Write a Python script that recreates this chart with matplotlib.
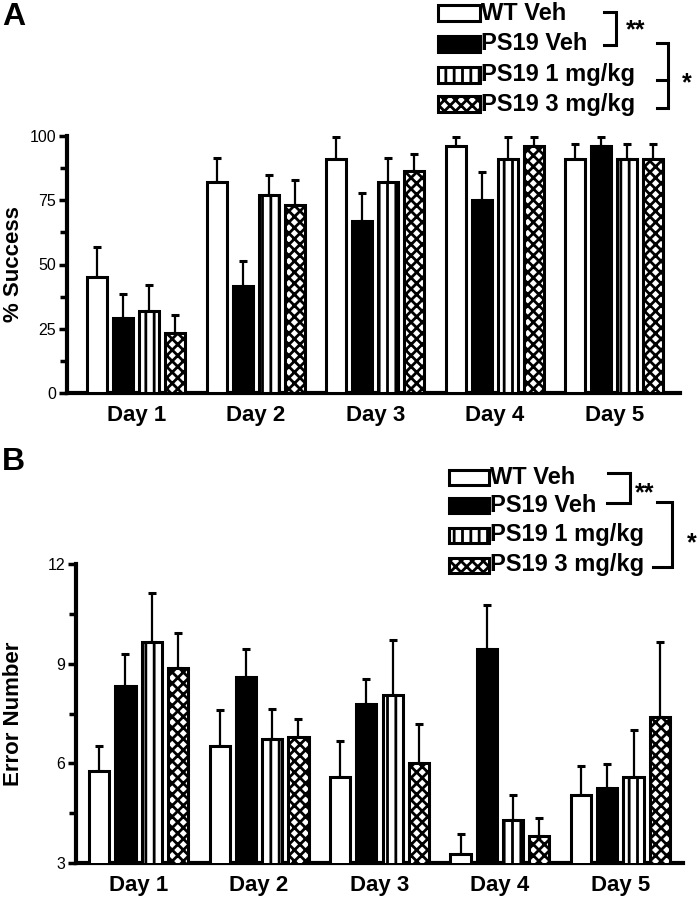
import numpy as np
import matplotlib
matplotlib.use('Agg')
import matplotlib.pyplot as plt
from matplotlib.patches import Rectangle
from matplotlib.lines import Line2D

plt.rcParams['font.family'] = ['Liberation Sans', 'DejaVu Sans']
plt.rcParams['hatch.linewidth'] = 2.0

# dati
days = ['Day 1', 'Day 2', 'Day 3', 'Day 4', 'Day 5']
groups = ['WT Veh', 'PS19 Veh', 'PS19 1 mg/kg', 'PS19 3 mg/kg']

success_wt = [45, 82, 91, 96, 91]
success_veh = [29, 41.5, 67, 75, 96]
success_1mg = [32, 77, 82, 91, 91]
success_3mg = [23.5, 73, 86.5, 96, 91]
success_wt_sem = [12, 9.5, 8.5, 3.5, 5.8]
success_veh_sem = [9.4, 10, 11, 11, 3.5]
success_1mg_sem = [10, 7.8, 9.5, 8.8, 5.8]
success_3mg_sem = [6.8, 10, 6.5, 3.5, 5.8]

errors_wt = [5.77, 6.52, 5.58, 3.26, 5.05]
errors_veh = [8.32, 8.6, 7.8, 9.45, 5.25]
errors_1mg = [9.65, 6.73, 8.05, 4.28, 5.6]
errors_3mg = [8.87, 6.8, 6.0, 3.81, 7.4]
errors_wt_sem = [0.76, 1.08, 1.08, 0.6, 0.87]
errors_veh_sem = [0.98, 0.85, 0.74, 1.32, 0.74]
errors_1mg_sem = [1.47, 0.92, 1.65, 0.77, 1.39]
errors_3mg_sem = [1.06, 0.52, 1.19, 0.53, 2.24]

faces = ['white', 'black', 'white', 'white']
hatches = [None, None, '||', 'xxx']

W, H = 700, 900
def fx(x):
    return x / W
def fy(y):
    return 1 - y / H

fig = plt.figure(figsize=(7, 9), dpi=100)

def pannello(ax, means, sems, ylim, yticks, minor, ylabel, xlim, labx):
    x = np.arange(len(days))
    step = 0.218
    for i in range(4):
        pos = x + (i - 1.5) * step
        ax.bar(pos, means[i], width=0.168, color=faces[i], edgecolor='black',
               linewidth=2.2, hatch=hatches[i], zorder=3,
               yerr=[np.zeros(len(days)), sems[i]],
               error_kw=dict(ecolor='black', elinewidth=1.6, capsize=3,
                             capthick=2.2, zorder=2))
    ax.set_ylim(*ylim)
    ax.set_xlim(*xlim)
    ax.set_yticks(yticks)
    ax.set_yticks(minor, minor=True)
    ax.set_xticks(x)
    ax.set_xticklabels(days, fontsize=16, fontweight='bold')
    ax.tick_params(axis='x', length=0, pad=9)
    ax.tick_params(axis='y', which='major', length=6, width=2.5, labelsize=11.5, pad=2)
    ax.tick_params(axis='y', which='minor', length=5, width=2.5)
    for s in ['top', 'right']:
        ax.spines[s].set_visible(False)
    for s in ['left', 'bottom']:
        ax.spines[s].set_linewidth(3)
    ax.set_ylabel(ylabel, fontsize=16, fontweight='bold')
    ax.yaxis.set_label_coords(labx, 0.5)

axA = fig.add_axes([67 / W, 1 - 393 / H, 613 / W, 257 / H])
pannello(axA,
         [success_wt, success_veh, success_1mg, success_3mg],
         [success_wt_sem, success_veh_sem, success_1mg_sem, success_3mg_sem],
         (0, 100), [0, 25, 50, 75, 100], [12.5, 37.5, 62.5, 87.5],
         '% Success', (-0.58, 4.55), (24 - 67) / 613)

axB = fig.add_axes([76 / W, 1 - 863 / H, 607 / W, 299 / H])
pannello(axB,
         [errors_wt, errors_veh, errors_1mg, errors_3mg],
         [errors_wt_sem, errors_veh_sem, errors_1mg_sem, errors_3mg_sem],
         (3, 12), [3, 6, 9, 12], [4.5, 7.5, 10.5],
         'Error Number', (-0.52, 4.52), (24 - 76) / 607)

fig.text(fx(2), fy(17), 'A', fontsize=23, fontweight='bold', va='center', ha='left')
fig.text(fx(2), fy(462), 'B', fontsize=23, fontweight='bold', va='center', ha='left')

def legenda(x0, x1, ys):
    for i, lab in enumerate(groups):
        y = ys[i]
        r = Rectangle((fx(x0), fy(y + 7.5)), fx(x1 - x0), 15 / H,
                      transform=fig.transFigure, facecolor=faces[i],
                      edgecolor='black', linewidth=2.2, hatch=hatches[i])
        fig.patches.append(r)
        fig.text(fx(x1 + 1), fy(y), lab, fontsize=17, fontweight='bold',
                 va='center', ha='left')

def linea(xs, ys):
    fig.lines.append(Line2D([fx(v) for v in xs], [fy(v) for v in ys],
                            transform=fig.transFigure, color='black',
                            linewidth=2.2, solid_joinstyle='miter'))

legenda(438, 480, [13, 44, 75, 104])
linea([604, 616, 616, 604], [12, 12, 45, 45])
fig.text(fx(636), fy(30), '**', fontsize=18, fontweight='bold', ha='center', va='center')
linea([657, 668, 668, 657], [43, 43, 108, 108])
linea([657, 668], [80, 80])
fig.text(fx(687), fy(83), '*', fontsize=18, fontweight='bold', ha='center', va='center')

legenda(449, 489, [477, 505, 535, 565])
linea([608, 630, 630, 607], [473, 473, 503, 503])
fig.text(fx(645), fy(493), '**', fontsize=18, fontweight='bold', ha='center', va='center')
linea([657, 672, 672, 653], [502, 502, 567, 567])
fig.text(fx(692), fy(543), '*', fontsize=18, fontweight='bold', ha='center', va='center')

fig.savefig('out.png', dpi=100)
